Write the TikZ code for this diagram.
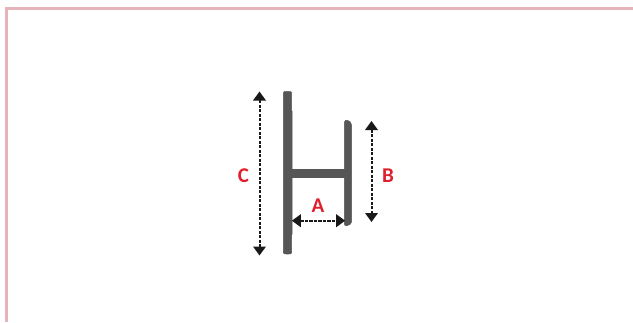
\documentclass[tikz,border=0pt]{standalone}
\usepackage{fontspec}
\setmainfont{Carlito}
\usetikzlibrary{arrows.meta}
\definecolor{cornice}{HTML}{E6B3BB}
\definecolor{profilo}{HTML}{565656}
\definecolor{rosso}{HTML}{E01F2D}
\tikzset{
>={Triangle[length=9pt,width=12.5pt]},
bordo/.style={draw=cornice,line width=2.9pt},
barra/.style={fill=profilo,draw=profilo,line width=0.5pt},
freccia/.style={<->,dash pattern=on 3.4pt off 1.1pt,line width=2pt,black!90},
lettera/.style={text=rosso,font=\fontsize{21}{21}\selectfont\bfseries,inner sep=0pt}}

\begin{document}
\begin{tikzpicture}[x=1pt,y=-1pt]
      \useasboundingbox (0,0) rectangle (633,322);

      \coordinate (bordo1) at (6.2,322);
      \coordinate (bordo2) at (6.2,8.7);
      \coordinate (bordo3) at (633,8.7);
      \draw[bordo] (bordo1) -- (bordo2) -- (bordo3);

      % profilo
      \fill[barra] (283.3,93) .. controls (283.3,91.6) and (284.5,91.4) .. (287.5,91.4) .. controls (290.5,91.4) and (291.7,91.6) .. (291.7,93)
        -- (291.7,110.5) -- (292,111) -- (292,234) -- (291.7,235) -- (291.7,252.5) .. controls (291.7,253.8) and (290.5,254.1) .. (287.5,254.1)
        .. controls (284.5,254.1) and (283.3,253.8) .. (283.3,252.5) -- cycle;
      \fill[barra] (291,169) rectangle (345,177.7);
      \fill[barra] (344.3,122.5) .. controls (344.3,120.5) and (346,119.8) .. (347.5,120.3) .. controls (349.5,121) and (351.7,122.5) .. (351.7,125.5)
        -- (351.7,220) .. controls (351.7,224) and (349,225.8) .. (346.5,225.8) .. controls (345,225.8) and (344.3,225) .. (344.3,223.5) -- cycle;

      \coordinate (c1) at (259.5,91.5);
      \coordinate (c2) at (259.5,255.5);
      \coordinate (b1) at (371.5,121);
      \coordinate (b2) at (371.5,222);
      \coordinate (a1) at (291.8,220.7);
      \coordinate (a2) at (345.2,220.7);

      \draw[freccia] (c1) -- (c2);
      \draw[freccia] (b1) -- (b2);
      \draw[freccia] (a1) -- (a2);

      \node[lettera] (labelA) at (318,205.5) {A};
      \node[lettera] (labelB) at (388,175.5) {B};
      \node[lettera] (labelC) at (243.5,175.5) {C};
\end{tikzpicture}
\end{document}
